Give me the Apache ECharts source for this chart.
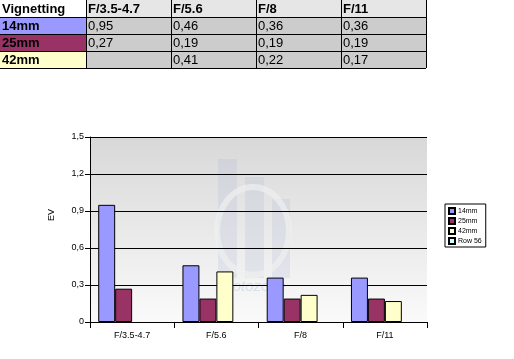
<!DOCTYPE html>
<html><head><meta charset="utf-8">
<script src="https://cdn.jsdelivr.net/npm/echarts@6/dist/echarts.min.js"></script>
<style>html,body{margin:0;padding:0;background:#fff}#c{width:514px;height:359px}</style>
</head><body><div id="c"></div>
<script>
var tableTitle = 'Vignetting';
var categories = ['F/3.5-4.7', 'F/5.6', 'F/8', 'F/11'];
var seriesNames = ['14mm', '25mm', '42mm', 'Row 56'];
var s14 = [0.95, 0.46, 0.36, 0.36];
var s25 = [0.27, 0.19, 0.19, 0.19];
var s42 = [null, 0.41, 0.22, 0.17];
var s56 = [null, null, null, null];
var colors = ['#9999FF', '#993366', '#FFFFCC', '#CCFFFF'];
var yTicks = { min: 0, max: 1.5, interval: 0.3 };

var chart = echarts.init(document.getElementById('c'));
var fmt = function (v) { return v == null ? '' : String(v).replace('.', ','); };

var colX = [0, 86, 171, 256, 341, 426];
var rowY = [0, 17, 34, 51, 68];
var g = [];
var rowsData = [s14, s25, s42];
for (var c = 0; c < 5; c++) {
  g.push({ type: 'rect', shape: { x: colX[c], y: rowY[0], width: colX[c + 1] - colX[c], height: rowY[1] - rowY[0] },
    style: { fill: c === 0 ? '#ffffff' : '#e6e6e6' }, z: 1 });
  g.push({ type: 'text', x: colX[c] + 2, y: (rowY[0] + rowY[1]) / 2 + 0.5,
    style: { text: c === 0 ? tableTitle : categories[c - 1], font: 'bold 13px "Liberation Sans", Arial', fill: '#000', verticalAlign: 'middle' }, z: 3 });
}
for (var r = 0; r < 3; r++) {
  for (var c2 = 0; c2 < 5; c2++) {
    g.push({ type: 'rect', shape: { x: colX[c2], y: rowY[r + 1], width: colX[c2 + 1] - colX[c2], height: rowY[r + 2] - rowY[r + 1] },
      style: { fill: c2 === 0 ? colors[r] : '#cccccc' }, z: 1 });
    var txt = c2 === 0 ? seriesNames[r] : fmt(rowsData[r][c2 - 1]);
    g.push({ type: 'text', x: colX[c2] + 2, y: (rowY[r + 1] + rowY[r + 2]) / 2 + 0.5,
      style: { text: txt, font: (c2 === 0 ? 'bold ' : '') + '13px "Liberation Sans", Arial', fill: '#000', verticalAlign: 'middle' }, z: 3 });
  }
}
for (var i = 1; i < rowY.length; i++) {
  g.push({ type: 'line', shape: { x1: 0, y1: rowY[i] + 0.5, x2: colX[5], y2: rowY[i] + 0.5 }, style: { stroke: '#000', lineWidth: 1 }, z: 2 });
}
for (var j = 1; j < colX.length; j++) {
  g.push({ type: 'line', shape: { x1: colX[j] + 0.5, y1: 0, x2: colX[j] + 0.5, y2: rowY[4] }, style: { stroke: '#000', lineWidth: 1 }, z: 2 });
}
g.push({ type: 'rect', shape: { x: 90, y: 137, width: 337, height: 185 }, silent: true, z: -10,
  style: { fill: new echarts.graphic.LinearGradient(0, 0, 0, 1, [{ offset: 0, color: '#d8d8d8' }, { offset: 1, color: '#fafafa' }]) } });
// faint watermark
g.push({ type: 'rect', shape: { x: 218, y: 159, width: 19, height: 119 }, style: { fill: '#a8bcd8', opacity: 0.22 }, z: -9 });
g.push({ type: 'rect', shape: { x: 245, y: 177, width: 19, height: 101 }, style: { fill: '#a8bcd8', opacity: 0.22 }, z: -9 });
g.push({ type: 'rect', shape: { x: 272, y: 199, width: 18, height: 79 }, style: { fill: '#a8bcd8', opacity: 0.22 }, z: -9 });
g.push({ type: 'ellipse', shape: { cx: 253, cy: 231, rx: 36, ry: 44 }, style: { fill: 'none', stroke: '#efefef', lineWidth: 6, opacity: 0.7 }, z: -8 });
g.push({ type: 'text', x: 216, y: 287, style: { text: 'photozone', font: 'italic 15px "Liberation Sans", Arial', fill: '#c0cedf', opacity: 0.5, verticalAlign: 'middle' }, z: -8 });
g.push({ type: 'text', x: 52, y: 215, rotation: Math.PI / 2,
  style: { text: 'EV', font: '9px "Liberation Sans", Arial', fill: '#000', align: 'center', verticalAlign: 'middle' }, z: 3 });

function mk(name, data, i) {
  return { name: name, type: 'bar', data: data, barGap: 0, barCategoryGap: '19.5%',
    itemStyle: { color: colors[i], borderColor: '#000', borderWidth: 1 }, emphasis: { disabled: true } };
}

chart.setOption({
  animation: false,
  graphic: g,
  grid: { left: 90, top: 137, right: 87, bottom: 37, show: false },
  legend: {
    orient: 'vertical', left: 445, top: 204, itemWidth: 6, itemHeight: 6, itemGap: 2,
    padding: [3, 4, 2, 3], borderColor: '#000', borderWidth: 1, backgroundColor: '#fff',
    icon: 'rect', data: seriesNames,
    textStyle: { fontSize: 7, fontFamily: '"Liberation Sans", Arial', color: '#000', padding: [0, 0, 0, -2] }
  },
  xAxis: {
    type: 'category', data: categories,
    axisLine: { lineStyle: { color: '#000', width: 1 } },
    axisTick: { show: true, length: 6, lineStyle: { color: '#000' } },
    axisLabel: { fontSize: 9, fontFamily: '"Liberation Sans", Arial', color: '#000', margin: 9 }
  },
  yAxis: {
    type: 'value', min: yTicks.min, max: yTicks.max, interval: yTicks.interval,
    axisLine: { show: true, lineStyle: { color: '#000', width: 1 } },
    axisTick: { show: true, length: 5, lineStyle: { color: '#000' } },
    splitLine: { lineStyle: { color: '#000', width: 1 } },
    axisLabel: { fontSize: 9, fontFamily: '"Liberation Sans", Arial', color: '#000', margin: 6,
      formatter: function (v) { return fmt(Math.round(v * 10) / 10); } }
  },
  series: [mk(seriesNames[0], s14, 0), mk(seriesNames[1], s25, 1), mk(seriesNames[2], s42, 2), mk(seriesNames[3], s56, 3)]
});
</script></body></html>
